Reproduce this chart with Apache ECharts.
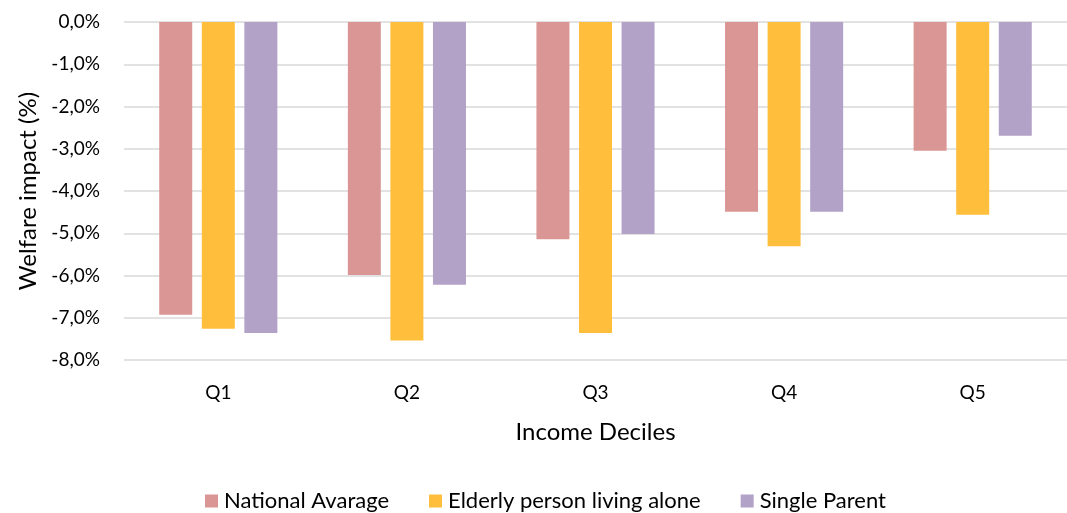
<!DOCTYPE html>
<html>
<head>
<meta charset="utf-8">
<script src="https://cdn.jsdelivr.net/npm/echarts@6/dist/echarts.min.js"></script>
<style>
  html, body { margin: 0; padding: 0; background: #ffffff; }
  #chart { width: 1067px; height: 513px; }
</style>
</head>
<body>
<div id="chart"></div>
<script>
// Income quintiles on the category axis
const categories = ['Q1', 'Q2', 'Q3', 'Q4', 'Q5'];

// Welfare impact per household type, in percent
const nationalAverage = [-6.93, -5.99, -5.14, -4.49, -3.05];
const elderlyAlone    = [-7.26, -7.54, -7.36, -5.31, -4.56];
const singleParent    = [-7.36, -6.22, -5.02, -4.49, -2.69];

const seriesNames = ['National Avarage', 'Elderly person living alone', 'Single Parent'];

// Value axis ticks
const yMin = -8;
const yMax = 0;
const yStep = 1;

const FONT = 'Lato, "Open Sans", sans-serif';
const TEXT = '#000000';

const fmtPct = v => v.toFixed(1).replace('.', ',') + '%';

const chart = echarts.init(document.getElementById('chart'), null, { renderer: 'canvas' });

chart.setOption({
  animation: false,
  backgroundColor: '#ffffff',
  color: ['#DA9694', '#FFBE3C', '#B3A2C7'],
  // plot area runs past the right edge so the gridlines reach the border
  grid: { left: 124, right: -10, top: 22, bottom: 153, containLabel: false },
  legend: {
    data: seriesNames,
    top: 485,
    left: 200,
    itemWidth: 13,
    itemHeight: 13,
    itemGap: 40,
    icon: 'rect',
    textStyle: { fontFamily: FONT, fontSize: 22, color: TEXT, padding: [0, 0, 0, 1] }
  },
  xAxis: {
    type: 'category',
    data: categories,
    position: 'bottom',
    name: 'Income Deciles',
    nameLocation: 'middle',
    nameGap: 60,
    nameTextStyle: { fontFamily: FONT, fontSize: 24, color: TEXT },
    axisLine: { show: false, onZero: false },
    axisTick: { show: false },
    axisLabel: { fontFamily: FONT, fontSize: 19, color: TEXT, margin: 23 }
  },
  yAxis: {
    type: 'value',
    min: yMin,
    max: yMax,
    interval: yStep,
    name: 'Welfare impact (%)',
    nameLocation: 'middle',
    nameRotate: 90,
    nameGap: 84,
    nameTextStyle: { fontFamily: FONT, fontSize: 24, color: TEXT },
    axisLine: { show: false },
    axisTick: { show: false },
    axisLabel: { fontFamily: FONT, fontSize: 19, color: TEXT, margin: 24, formatter: fmtPct },
    splitLine: { show: true, lineStyle: { color: '#D9D9D9', width: 1.5 } }
  },
  series: [
    { name: seriesNames[0], type: 'bar', data: nationalAverage, barWidth: 33, barGap: '29%' },
    { name: seriesNames[1], type: 'bar', data: elderlyAlone, barWidth: 33, barGap: '29%' },
    { name: seriesNames[2], type: 'bar', data: singleParent, barWidth: 33, barGap: '29%' }
  ]
});
</script>
</body>
</html>
